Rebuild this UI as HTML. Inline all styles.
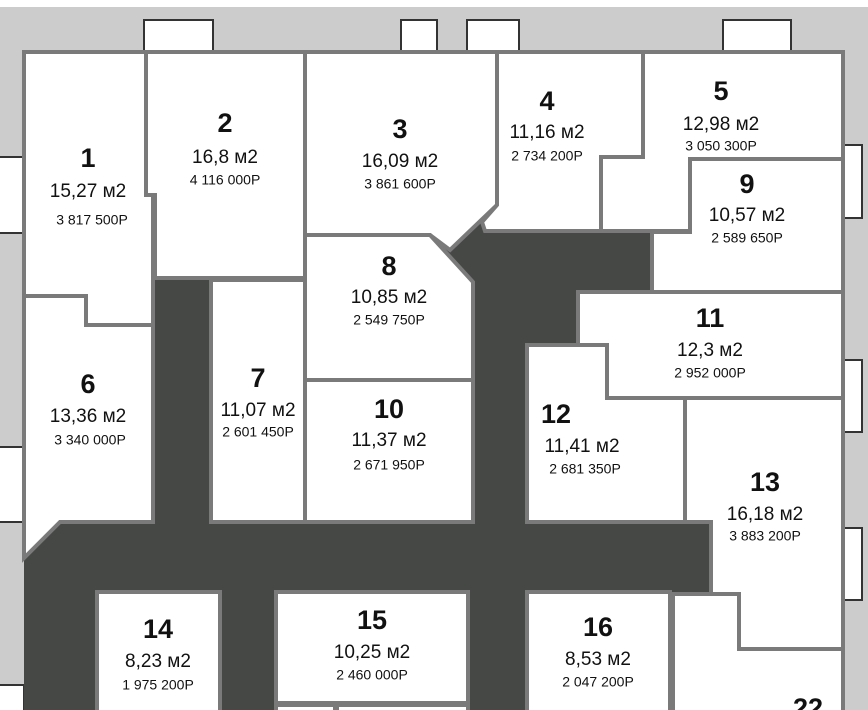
<!DOCTYPE html>
<html><head><meta charset="utf-8"><style>
html,body{margin:0;padding:0;background:#fff}
svg{display:block}
text{font-family:"Liberation Sans",sans-serif;fill:#111;text-anchor:middle;dominant-baseline:middle}
.n{font-weight:bold;font-size:27px}
.a{font-size:19px}
.p{font-size:14px}
</style></head><body>
<svg width="868" height="710" viewBox="0 0 868 710" xmlns="http://www.w3.org/2000/svg">
<rect x="0" y="0" width="868" height="710" fill="#fff"/>
<rect x="0" y="7" width="868" height="703" fill="#cccccc"/>
<g fill="#fff" stroke="#333" stroke-width="2">
<rect x="144" y="20" width="69" height="34"/><rect x="401" y="20" width="36" height="34"/>
<rect x="467" y="20" width="52" height="34"/><rect x="723" y="20" width="68" height="34"/>
<rect x="-2" y="157" width="26" height="76"/><rect x="-2" y="447" width="26" height="75"/>
<rect x="-2" y="685" width="26" height="30"/>
<rect x="841" y="145" width="21" height="73"/><rect x="841" y="360" width="21" height="72"/>
<rect x="841" y="528" width="21" height="72"/>
</g>
<polygon points="24,52 843,52 843,712 24,712" fill="#464846"/>
<g fill="#fff" stroke="#7a7a7a" stroke-width="4" stroke-linejoin="miter">
<polygon points="24,52 146,52 146,195 153,195 153,325 86,325 86,296 24,296"/>
<polygon points="146,52 305,52 305,278 155,278 155,195 146,195"/>
<polygon points="305,52 497,52 497,205 450,250 430,235 305,235"/>
<polygon points="497,52 643,52 643,157 601,157 601,231 485,231 482,222 497,205"/>
<polygon points="643,52 843,52 843,159 690,159 690,231 601,231 601,157 643,157"/>
<polygon points="690,159 843,159 843,292 652,292 652,232 690,232"/>
<polygon points="305,235 430,235 473,282 473,380 305,380"/>
<polygon points="578,292 843,292 843,398 607,398 607,345 578,345"/>
<polygon points="527,345 607,345 607,398 685,398 685,522 527,522"/>
<polygon points="685,398 843,398 843,649 739,649 739,594 711,594 711,522 685,522"/>
<polygon points="673,594 739,594 739,649 843,649 843,712 673,712"/>
<polygon points="24,296 86,296 86,325 153,325 153,522 60,522 24,558"/>
<polygon points="211,280 305,280 305,522 211,522"/>
<polygon points="305,380 473,380 473,522 305,522"/>
<polygon points="97,592 220,592 220,712 97,712"/>
<polygon points="276,592 468,592 468,703 276,703"/>
<polygon points="276,705 335,705 335,712 276,712"/>
<polygon points="337,705 468,705 468,712 337,712"/>
<polygon points="527,592 670,592 670,712 527,712"/>
</g>
<text class="n" x="88" y="160">1</text><text class="a" x="88" y="192">15,27 м2</text><text class="p" x="92" y="221">3 817 500Р</text>
<text class="n" x="225" y="125">2</text><text class="a" x="225" y="158">16,8 м2</text><text class="p" x="225" y="181">4 116 000Р</text>
<text class="n" x="400" y="131">3</text><text class="a" x="400" y="162">16,09 м2</text><text class="p" x="400" y="185">3 861 600Р</text>
<text class="n" x="547" y="103">4</text><text class="a" x="547" y="133">11,16 м2</text><text class="p" x="547" y="157">2 734 200Р</text>
<text class="n" x="721" y="93">5</text><text class="a" x="721" y="125">12,98 м2</text><text class="p" x="721" y="147">3 050 300Р</text>
<text class="n" x="88" y="386">6</text><text class="a" x="88" y="417">13,36 м2</text><text class="p" x="90" y="441">3 340 000Р</text>
<text class="n" x="258" y="380">7</text><text class="a" x="258" y="411">11,07 м2</text><text class="p" x="258" y="433">2 601 450Р</text>
<text class="n" x="389" y="268">8</text><text class="a" x="389" y="298">10,85 м2</text><text class="p" x="389" y="321">2 549 750Р</text>
<text class="n" x="747" y="186">9</text><text class="a" x="747" y="216">10,57 м2</text><text class="p" x="747" y="239">2 589 650Р</text>
<text class="n" x="389" y="411">10</text><text class="a" x="389" y="441">11,37 м2</text><text class="p" x="389" y="466">2 671 950Р</text>
<text class="n" x="710" y="320">11</text><text class="a" x="710" y="351">12,3 м2</text><text class="p" x="710" y="374">2 952 000Р</text>
<text class="n" x="556" y="416">12</text><text class="a" x="582" y="447">11,41 м2</text><text class="p" x="585" y="470">2 681 350Р</text>
<text class="n" x="765" y="484">13</text><text class="a" x="765" y="515">16,18 м2</text><text class="p" x="765" y="537">3 883 200Р</text>
<text class="n" x="158" y="631">14</text><text class="a" x="158" y="662">8,23 м2</text><text class="p" x="158" y="686">1 975 200Р</text>
<text class="n" x="372" y="622">15</text><text class="a" x="372" y="653">10,25 м2</text><text class="p" x="372" y="676">2 460 000Р</text>
<text class="n" x="598" y="629">16</text><text class="a" x="598" y="660">8,53 м2</text><text class="p" x="598" y="683">2 047 200Р</text>
<text class="n" x="808" y="710">22</text>
</svg>
</body></html>
